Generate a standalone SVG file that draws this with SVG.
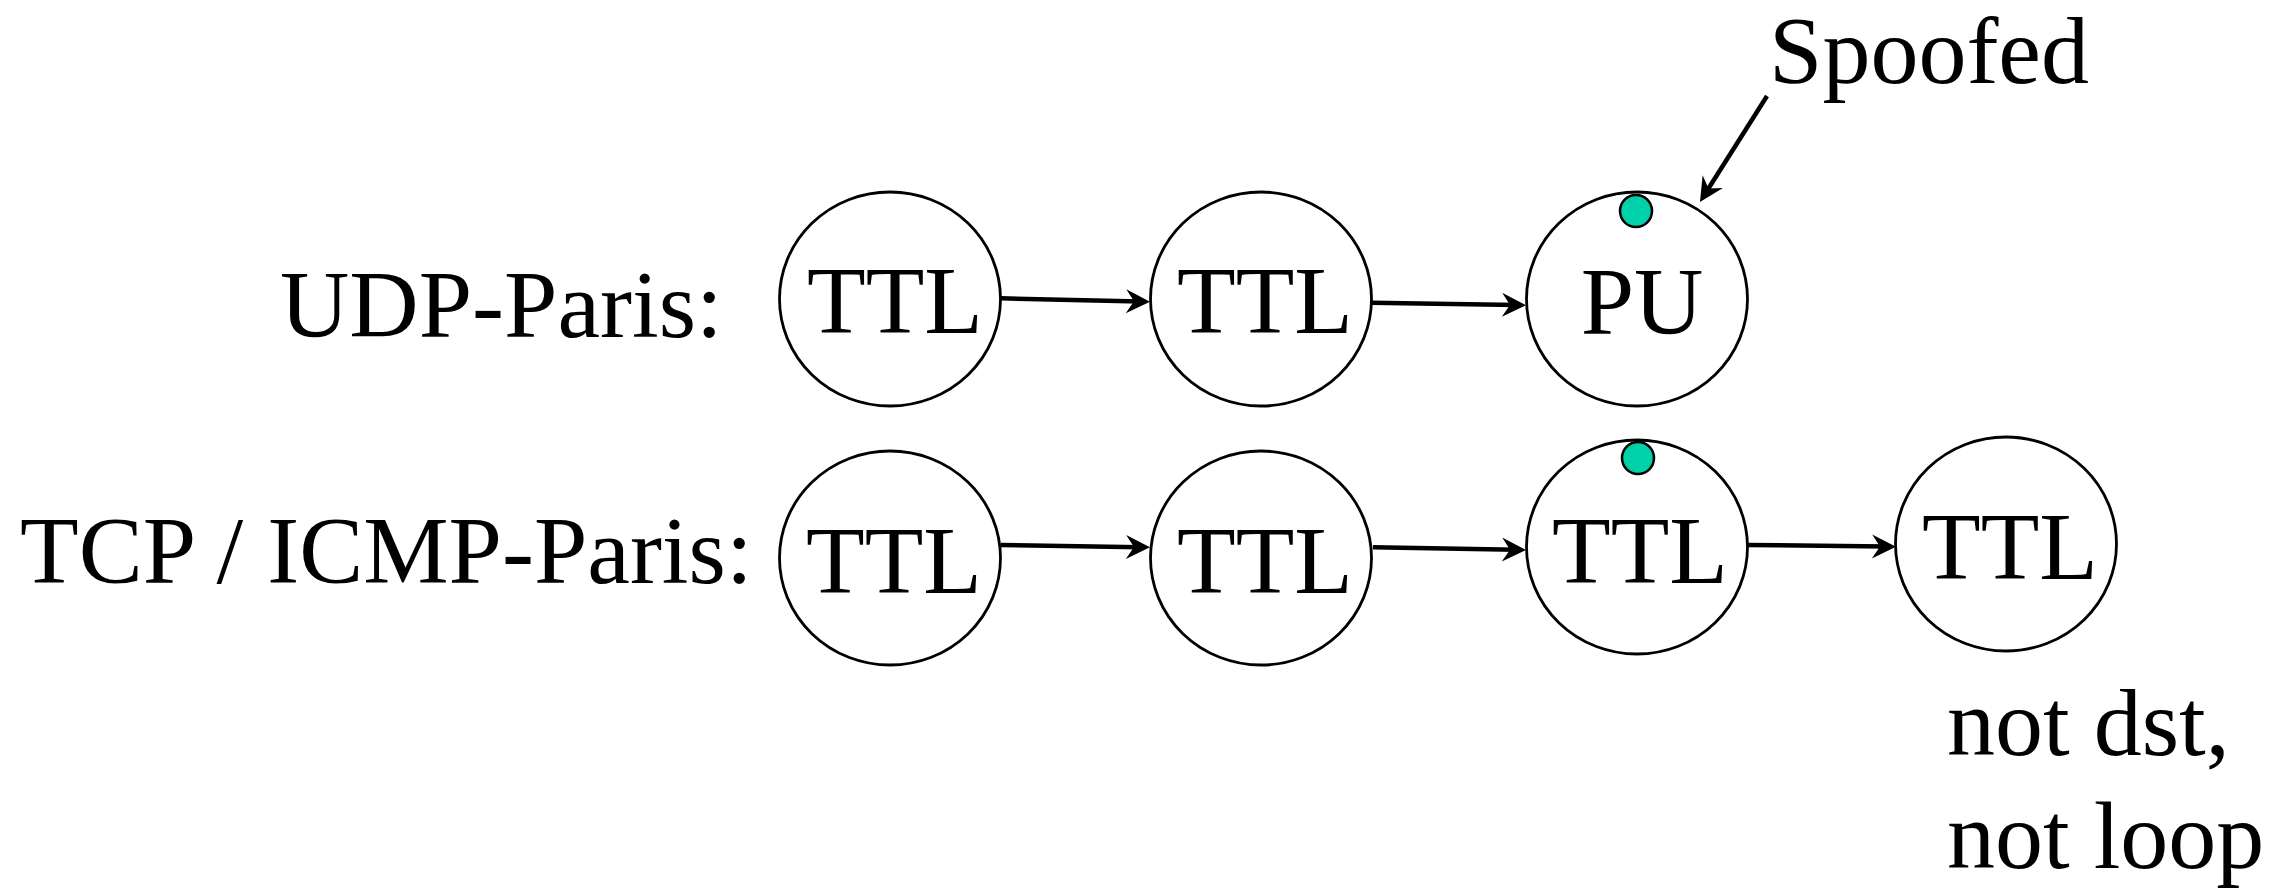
<svg xmlns="http://www.w3.org/2000/svg" width="2285" height="888" viewBox="0 0 2285 888">
  <style>
    .node { fill: #ffffff; stroke: #000000; stroke-width: 2.8; }
    .dot { fill: #00D1AB; stroke: #000000; stroke-width: 2.5; }
    .lbl { font-family: "Liberation Serif", "Times New Roman", serif; font-size: 96px; fill: #000000; }
    .mid { text-anchor: middle; }
    .conn { fill: none; stroke: #000000; stroke-width: 4.5; marker-end: url(#ah); }
  </style>
  <defs>
    <marker id="ah" markerUnits="userSpaceOnUse" viewBox="-25 -13 26 26" refX="-10" refY="0" markerWidth="26" markerHeight="26" orient="auto">
      <path d="M0,0 L-24,-12 L-16,0 L-24,12 Z" fill="#000000"/>
    </marker>
  </defs>
  <rect x="0" y="0" width="2285" height="888" fill="#ffffff"/>

  <g id="labels">
    <text class="lbl" x="280" y="337">UDP-Paris:</text>
    <text class="lbl" x="20" y="583">TCP / ICMP-Paris:</text>
    <text class="lbl" x="1769" y="83">Spoofed</text>
    <text class="lbl" x="1947" y="755">not dst,</text>
    <text class="lbl" x="1947" y="868">not loop</text>
  </g>

  <g id="u1">
    <ellipse class="node" cx="890" cy="299" rx="110.5" ry="107"/>
    <text class="lbl mid" x="895" y="333">TTL</text>
  </g>
  <g id="u2">
    <ellipse class="node" cx="1261" cy="299" rx="110.5" ry="107"/>
    <text class="lbl mid" x="1265" y="333">TTL</text>
  </g>
  <g id="u3">
    <ellipse class="node" cx="1637" cy="299" rx="110.5" ry="107"/>
    <text class="lbl mid" x="1642" y="334">PU</text>
    <circle class="dot" cx="1636" cy="211" r="16"/>
  </g>

  <g id="t1">
    <ellipse class="node" cx="890" cy="558" rx="110.5" ry="107"/>
    <text class="lbl mid" x="894" y="593">TTL</text>
  </g>
  <g id="t2">
    <ellipse class="node" cx="1261" cy="558" rx="110.5" ry="107"/>
    <text class="lbl mid" x="1265" y="593">TTL</text>
  </g>
  <g id="t3">
    <ellipse class="node" cx="1637" cy="547" rx="110.5" ry="107"/>
    <text class="lbl mid" x="1640" y="583">TTL</text>
    <circle class="dot" cx="1638" cy="458" r="16"/>
  </g>
  <g id="t4">
    <ellipse class="node" cx="2006" cy="544" rx="110.5" ry="107"/>
    <text class="lbl mid" x="2010" y="579">TTL</text>
  </g>

  <g id="connectors">
    <path class="conn" d="M1001,298.3 L1140,301.5"/>
    <path class="conn" d="M1372,302.7 L1516,305"/>
    <path class="conn" d="M1001,545 L1140,547.2"/>
    <path class="conn" d="M1373,547.3 L1516,549.8"/>
    <path class="conn" d="M1748,545 L1886,546.6"/>
    <path class="conn" d="M1767,96 L1705.3,193.5"/>
  </g>
</svg>
